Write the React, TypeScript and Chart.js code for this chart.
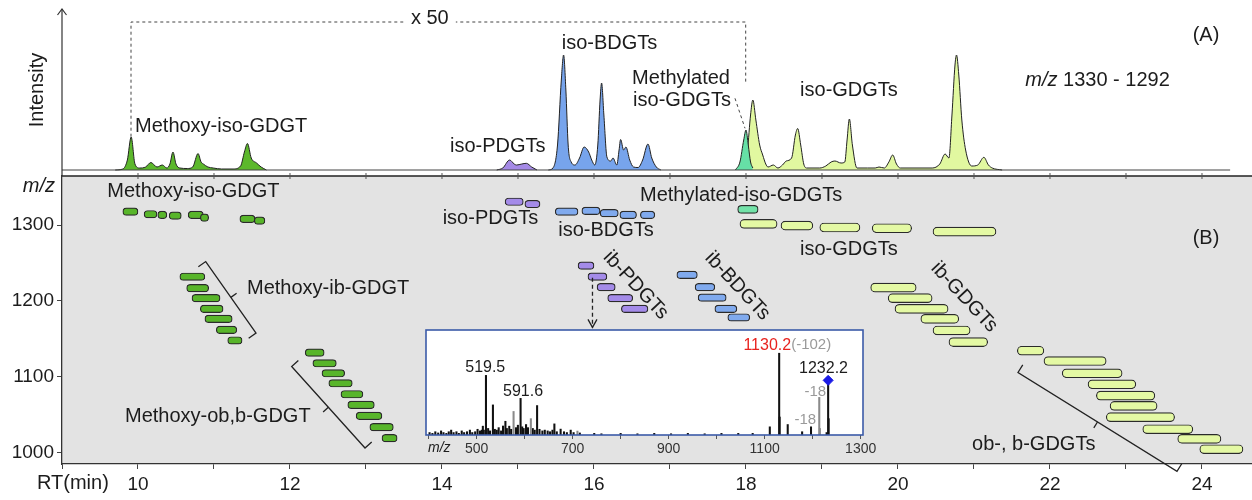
import React, { useEffect, useRef } from "react";
import { Chart, registerables } from "chart.js";

Chart.register(...registerables);

const FONT = '"Liberation Sans", Arial, Helvetica, sans-serif';
const INK = "#1c1c1c";

// ---------------- Panel A : chromatogram (m/z 1330 - 1292) ----------------
const methoxyRT = [9.70, 9.80, 9.86, 9.91, 9.96, 10.02, 10.10, 10.17, 10.25, 10.32, 10.38, 10.42, 10.46, 10.50, 10.55, 10.65, 10.72, 10.79, 10.83, 10.86, 10.92, 10.99, 11.10, 11.25, 11.35, 11.40, 11.44, 11.49, 11.56, 11.62, 11.69];
const methoxyInt = [0, 1, 10, 33, 6, 2, 3, 7.5, 3, 5, 2, 6, 18, 6, 2, 1.5, 3, 16.5, 8, 6, 3, 2, 1, 1, 4, 18, 26.5, 12, 7, 3, 0];

const pdgtRT = [14.72, 14.80, 14.89, 14.95, 14.98, 15.05, 15.11, 15.18, 15.25];
const pdgtInt = [0, 2, 10, 6, 5, 6, 6.7, 3, 0];

const bdgtRT = [15.40, 15.46, 15.52, 15.57, 15.60, 15.63, 15.66, 15.70, 15.75, 15.81, 15.87, 15.93, 15.97, 16.01, 16.05, 16.08, 16.10, 16.13, 16.17, 16.22, 16.25, 16.30, 16.33, 16.35, 16.39, 16.42, 16.47, 16.52, 16.58, 16.64, 16.71, 16.76, 16.82, 16.88];
const bdgtInt = [0, 2, 25, 90, 115, 80, 25, 8, 5, 12, 23, 18, 10, 5, 25, 70, 87, 55, 13, 9, 12, 5, 20, 30.5, 20, 23, 10, 3, 2.5, 10, 26, 12, 3, 0];

const methylRT = [17.86, 17.92, 17.97, 18.00, 18.03, 18.06, 18.09];
const methylInt = [0, 8, 30, 40, 25, 8, 2];

const gdgtRT = [17.98, 18.02, 18.06, 18.09, 18.13, 18.18, 18.22, 18.26, 18.29, 18.36, 18.42, 18.48, 18.53, 18.60, 18.65, 18.68, 18.72, 18.76, 18.80, 18.97, 19.05, 19.12, 19.17, 19.25, 19.30, 19.33, 19.36, 19.40, 19.46, 19.60, 19.70, 19.75, 19.82, 19.88, 19.93, 19.98, 20.03, 20.45, 20.55, 20.62, 20.67, 20.71, 20.75, 20.77, 20.80, 20.84, 20.89, 20.97, 21.05, 21.13, 21.19, 21.24, 21.37];
const gdgtInt = [0, 20, 55, 70, 50, 25, 15, 6, 3, 5, 2, 5, 9, 12, 35, 41.5, 25, 6, 2, 2, 4, 8, 9, 7, 8, 30, 51, 25, 2, 2, 2, 3, 2, 8, 15, 6, 2, 2, 6, 16, 12, 55, 105, 115, 95, 50, 20, 4, 5, 12.7, 5, 2, 0];

const baselineRT = [9, 24.37];
const baselineInt = [0, 0];

// ---------------- Panel B : RT vs m/z map ----------------
const methoxyIsoStart = [9.80, 10.08, 10.26, 10.41, 10.66, 10.82, 11.34, 11.53];
const methoxyIsoEnd = [10.00, 10.25, 10.38, 10.57, 10.86, 10.93, 11.54, 11.67];
const methoxyIsoMz = [1318, 1314.5, 1313.6, 1312.7, 1313.6, 1310, 1308.3, 1306.1];

const methoxyIbStart = [10.55, 10.64, 10.71, 10.82, 10.88, 11.03, 11.18];
const methoxyIbEnd = [10.88, 10.93, 11.08, 11.12, 11.24, 11.30, 11.37];
const methoxyIbMz = [1232, 1216.9, 1203.7, 1189.6, 1176.4, 1161.9, 1147.8];

const methoxyObStart = [12.20, 12.30, 12.42, 12.51, 12.67, 12.76, 12.87, 13.05, 13.21];
const methoxyObEnd = [12.45, 12.61, 12.72, 12.82, 12.96, 13.11, 13.21, 13.36, 13.41];
const methoxyObMz = [1131.7, 1117.7, 1104.5, 1091.3, 1076.8, 1062.7, 1048.2, 1033.3, 1018.8];

const isoPdgtStart = [14.83, 15.09];
const isoPdgtEnd = [15.07, 15.29];
const isoPdgtMz = [1331, 1328];

const isoBdgtStart = [15.49, 15.84, 16.08, 16.34, 16.61];
const isoBdgtEnd = [15.79, 16.08, 16.32, 16.56, 16.80];
const isoBdgtMz = [1318, 1319, 1316, 1313.6, 1313.6];

const methylStart = [17.89];
const methylEnd = [18.16];
const methylMz = [1321];

const isoGdgtStart = [17.92, 18.46, 18.97, 19.66, 20.46];
const isoGdgtEnd = [18.41, 18.88, 19.50, 20.18, 21.29];
const isoGdgtMz = [1301.7, 1299.5, 1297, 1296, 1291.6];

const ibPdgtStart = [15.79, 15.92, 16.04, 16.18, 16.36];
const ibPdgtEnd = [16.00, 16.17, 16.28, 16.51, 16.71];
const ibPdgtMz = [1246.7, 1232.2, 1218.2, 1203.7, 1189.6];

const ibBdgtStart = [17.09, 17.33, 17.37, 17.59, 17.76];
const ibBdgtEnd = [17.36, 17.59, 17.74, 17.88, 18.05];
const ibBdgtMz = [1234.4, 1218.2, 1204.5, 1189.6, 1178.2];

const ibGdgtStart = [19.64, 19.87, 19.96, 20.30, 20.46, 20.67];
const ibGdgtEnd = [20.24, 20.45, 20.66, 20.80, 20.95, 21.18];
const ibGdgtMz = [1217.7, 1203.7, 1189.6, 1176.4, 1161.0, 1145.7];

const obGdgtStart = [21.57, 21.92, 22.16, 22.50, 22.61, 22.79, 22.74, 23.22, 23.68, 23.97];
const obGdgtEnd = [21.92, 22.74, 22.95, 23.13, 23.38, 23.41, 23.64, 23.88, 24.25, 24.54];
const obGdgtMz = [1134.3, 1120.7, 1104.5, 1090, 1075, 1061.4, 1046.5, 1030.6, 1017.9, 1004.2];

const rtTickLabels = [10, 12, 14, 16, 18, 20, 22, 24];
const mzTickLabels = [1000, 1100, 1200, 1300];

// ---------------- Inset : MS2 spectrum ----------------
const specBlackMz = [402, 408, 414, 420, 426, 431, 437, 442, 447, 452, 458, 463, 469, 474, 480, 486, 491, 497, 502, 507, 511, 513, 515, 519.5, 524, 528, 534, 538, 542, 546, 551, 555, 560, 563, 568, 572, 582, 586, 591.6, 595, 598, 603, 607, 617, 621, 626, 631, 637, 642, 648, 653, 658, 662, 667, 675, 682, 688, 696, 702, 715, 745, 760, 800, 835, 870, 905, 940, 975, 1010, 1045, 1075, 1110.7, 1130.2, 1131.2, 1148, 1178, 1196.5, 1229, 1232.2, 1233.2];
const specBlackInt = [3, 2, 4, 2.5, 5, 3, 2, 4, 6, 3, 4, 2, 5, 3, 4, 6, 3, 4, 7, 5, 6, 10.8, 6, 72.9, 8, 5, 36.8, 7, 6, 9, 5, 11, 16.8, 8, 10.8, 7, 9, 12, 44.8, 10, 8, 12.8, 9, 8, 6, 36, 7, 5, 6, 5, 4, 6, 13.6, 4, 7.2, 4, 3, 6, 3, 2.5, 2, 1.5, 2, 1.5, 2, 1.5, 2, 1.5, 2, 2, 2, 10, 100, 22, 12.8, 4, 10, 3, 66.8, 20];
const specGrayMz = [577, 613, 710, 1213.7, 1215];
const specGrayInt = [28.8, 20, 4.8, 46, 8];
const precursorMz = [1232.2];
const precursorInt = [66.8];
const insetTickLabels = [500, 700, 900, 1100, 1300];

const pts = (xs: number[], ys: number[]) => xs.map((x, i) => ({ x, y: ys[i] }));
const pills = (s: number[], e: number[], m: number[]) => s.map((v, i) => ({ x: [v, e[i]], y: m[i] }));

const LABEL = `20px ${FONT}`;

function bracket(ctx: CanvasRenderingContext2D, x1: number, y1: number, x2: number, y2: number, sign: number) {
  const dx = x2 - x1, dy = y2 - y1;
  const L = Math.hypot(dx, dy);
  const ux = dx / L, uy = dy / L;
  const nx = -uy * sign, ny = ux * sign;
  const hook = 9, tick = 7;
  ctx.beginPath();
  ctx.moveTo(x1 + nx * hook, y1 + ny * hook);
  ctx.lineTo(x1, y1);
  ctx.lineTo(x2, y2);
  ctx.lineTo(x2 + nx * hook, y2 + ny * hook);
  ctx.stroke();
  const mx = (x1 + x2) / 2, my = (y1 + y2) / 2;
  ctx.beginPath();
  ctx.moveTo(mx, my);
  ctx.lineTo(mx - nx * tick, my - ny * tick);
  ctx.stroke();
}

const panelAPlugin = {
  id: "panelA",
  afterDraw(chart: any) {
    const { ctx, chartArea: a, scales } = chart;
    const X = (v: number) => scales.x.getPixelForValue(v);
    const Y = (v: number) => scales.y.getPixelForValue(v);
    ctx.save();
    ctx.strokeStyle = "#333";
    ctx.lineWidth = 1.2;
    ctx.beginPath();
    ctx.moveTo(a.left, 176);
    ctx.lineTo(a.left, 9);
    ctx.stroke();
    ctx.beginPath();
    ctx.moveTo(a.left - 4.5, 15);
    ctx.lineTo(a.left, 9);
    ctx.lineTo(a.left + 4.5, 15);
    ctx.stroke();
    ctx.fillStyle = INK;
    ctx.font = LABEL;
    ctx.textAlign = "center";
    ctx.textBaseline = "middle";
    ctx.save();
    ctx.translate(a.left - 25, 90);
    ctx.rotate(-Math.PI / 2);
    ctx.fillText("Intensity", 0, 0);
    ctx.restore();
    ctx.strokeStyle = "#444";
    ctx.lineWidth = 1;
    ctx.setLineDash([3, 3]);
    ctx.beginPath();
    ctx.moveTo(X(9.908), Y(33.3));
    ctx.lineTo(X(9.908), Y(148));
    ctx.lineTo(X(17.996), Y(148));
    ctx.lineTo(X(17.996), Y(87));
    ctx.stroke();
    ctx.beginPath();
    ctx.moveTo(X(17.855), Y(71.7));
    ctx.lineTo(X(17.987), Y(41.7));
    ctx.stroke();
    ctx.setLineDash([]);
    ctx.fillStyle = "#fff";
    ctx.fillRect(X(13.84) - 26, Y(152) - 10, 52, 20);
    ctx.fillStyle = INK;
    ctx.font = LABEL;
    ctx.fillText("x 50", X(13.84), Y(152));
    ctx.textAlign = "left";
    ctx.fillText("Methoxy-iso-GDGT", X(9.961), Y(43.3));
    ctx.fillText("iso-PDGTs", X(14.105), Y(24));
    ctx.fillText("iso-BDGTs", X(15.575), Y(126.7));
    ctx.textAlign = "center";
    ctx.fillText("Methylated", X(17.145), Y(91.7));
    ctx.fillText("iso-GDGTs", X(17.158), Y(70));
    ctx.fillText("iso-GDGTs", X(19.355), Y(80));
    ctx.fillText("(A)", X(24.053), Y(135));
    ctx.textAlign = "left";
    ctx.font = `italic 20px ${FONT}`;
    const mzx = X(21.675);
    ctx.fillText("m/z", mzx, Y(90));
    const w = ctx.measureText("m/z ").width;
    ctx.font = LABEL;
    ctx.fillText("1330 - 1292", mzx + w, Y(90));
    ctx.restore();
  },
};

const panelBPlugin = {
  id: "panelB",
  beforeDraw(chart: any) {
    const { ctx, chartArea: a } = chart;
    ctx.save();
    ctx.fillStyle = "#e3e3e3";
    ctx.fillRect(a.left, a.top, a.right - a.left, a.bottom - a.top);
    ctx.restore();
  },
  afterDraw(chart: any) {
    const { ctx, chartArea: a, scales } = chart;
    const X = (v: number) => scales.x.getPixelForValue(v);
    const Y = (v: number) => scales.y.getPixelForValue(v);
    ctx.save();
    ctx.strokeStyle = "#222";
    ctx.lineWidth = 1.5;
    ctx.beginPath();
    ctx.moveTo(a.left, a.top);
    ctx.lineTo(a.right, a.top);
    ctx.stroke();
    ctx.lineWidth = 1;
    ctx.strokeStyle = "#555";
    for (let t = 10; t <= 24; t++) {
      ctx.beginPath();
      ctx.moveTo(X(t), a.top - 3);
      ctx.lineTo(X(t), a.top + 3);
      ctx.stroke();
    }
    ctx.strokeStyle = "#222";
    ctx.lineWidth = 1.3;
    bracket(ctx, X(10.891), Y(1252), X(11.553), Y(1157.5), 1);
    bracket(ctx, X(12.022), Y(1113.5), X(12.987), Y(1005.8), -1);
    bracket(ctx, X(21.579), Y(1105.5), X(23.671), Y(974.9), -1);
    ctx.setLineDash([4, 3]);
    ctx.beginPath();
    ctx.moveTo(X(15.98), Y(1230.7));
    ctx.lineTo(X(15.98), Y(1165.1));
    ctx.stroke();
    ctx.setLineDash([]);
    ctx.beginPath();
    ctx.moveTo(X(15.98) - 4.5, Y(1165.1) - 8);
    ctx.lineTo(X(15.98), Y(1165.1));
    ctx.lineTo(X(15.98) + 4.5, Y(1165.1) - 8);
    ctx.stroke();
    ctx.fillStyle = INK;
    ctx.font = LABEL;
    ctx.textBaseline = "middle";
    ctx.textAlign = "left";
    ctx.fillText("Methoxy-iso-GDGT", X(9.596), Y(1344.3));
    ctx.fillText("iso-PDGTs", X(14.009), Y(1309.2));
    ctx.fillText("iso-BDGTs", X(15.53), Y(1292.5));
    ctx.fillText("Methylated-iso-GDGTs", X(16.605), Y(1339));
    ctx.fillText("iso-GDGTs", X(18.711), Y(1267.4));
    ctx.fillText("Methoxy-ib-GDGT", X(11.434), Y(1216.9));
    ctx.fillText("Methoxy-ob,b-GDGT", X(9.829), Y(1047.1));
    ctx.fillText("ob-, b-GDGTs", X(20.974), Y(1010.2));
    ctx.textAlign = "center";
    ctx.fillText("(B)", X(24.053), Y(1283));
    const rot = (txt: string, rt: number, mz: number) => {
      ctx.save();
      ctx.translate(X(rt), Y(mz));
      ctx.rotate((47 * Math.PI) / 180);
      ctx.fillText(txt, 0, 0);
      ctx.restore();
    };
    rot("ib-PDGTs", 16.55, 1220.7);
    rot("ib-BDGTs", 17.888, 1219.7);
    rot("ib-GDGTs", 20.87, 1205);
    ctx.font = `italic 20px ${FONT}`;
    ctx.textAlign = "right";
    ctx.fillText("m/z", a.left - 7, a.top + 10);
    ctx.font = LABEL;
    ctx.textAlign = "left";
    ctx.fillText("RT(min)", a.left - 25, a.bottom + 19);
    ctx.restore();
  },
};

const insetPlugin = {
  id: "inset",
  beforeDraw(chart: any) {
    const { ctx, chartArea: a } = chart;
    ctx.save();
    ctx.fillStyle = "#ffffff";
    ctx.fillRect(a.left, a.top, a.right - a.left, a.bottom - a.top);
    ctx.restore();
  },
  afterDraw(chart: any) {
    const { ctx, chartArea: a, scales } = chart;
    const X = (v: number) => scales.x.getPixelForValue(v);
    const Y = (v: number) => scales.y.getPixelForValue(v);
    ctx.save();
    ctx.strokeStyle = "#3b5ba8";
    ctx.lineWidth = 1.6;
    ctx.strokeRect(a.left, a.top, a.right - a.left, a.bottom - a.top);
    ctx.textBaseline = "middle";
    ctx.textAlign = "center";
    ctx.fillStyle = INK;
    ctx.font = `16px ${FONT}`;
    ctx.fillText("519.5", X(518), Y(82.7));
    ctx.fillText("591.6", X(596.7), Y(53.3));
    ctx.fillText("1232.2", X(1222.6), Y(80.6));
    ctx.textAlign = "left";
    ctx.fillStyle = "#e8231f";
    const lx = X(1055.7);
    ctx.fillText("1130.2", lx, Y(109.7));
    const w = ctx.measureText("1130.2").width;
    ctx.fillStyle = "#9a9a9a";
    ctx.font = `15px ${FONT}`;
    ctx.fillText("(-102)", lx + w, Y(109.7));
    ctx.textAlign = "center";
    ctx.fillText("-18", X(1205.4), Y(53.3));
    ctx.fillText("-18", X(1184.7), Y(18.2));
    ctx.fillStyle = INK;
    ctx.font = `italic 14px ${FONT}`;
    ctx.textAlign = "left";
    ctx.fillText("m/z", a.left + 2, a.bottom + 13);
    ctx.restore();
  },
};

export default function App() {
  const refA = useRef<HTMLCanvasElement>(null);
  const refB = useRef<HTMLCanvasElement>(null);
  const refI = useRef<HTMLCanvasElement>(null);

  useEffect(() => {
    document.body.style.margin = "0";
    Chart.defaults.font.family = FONT;
    Chart.defaults.color = INK;

    const line = (rt: number[], v: number[], color: string, order: number) => ({
      data: pts(rt, v),
      fill: "origin",
      backgroundColor: color,
      borderColor: "#222",
      borderWidth: 1,
      pointRadius: 0,
      cubicInterpolationMode: "monotone",
      order,
    });

    const chartA = new Chart(refA.current!, {
      type: "line",
      data: {
        datasets: [
          { data: pts(baselineRT, baselineInt), borderColor: "#444", borderWidth: 1.2, pointRadius: 0, fill: false, order: 0 } as any,
          line(methoxyRT, methoxyInt, "#5cb82c", 5),
          line(pdgtRT, pdgtInt, "#a58ae6", 5),
          line(bdgtRT, bdgtInt, "#77a4ec", 5),
          line(gdgtRT, gdgtInt, "#e1f8a0", 6),
          line(methylRT, methylInt, "#66e0a6", 4),
        ],
      },
      options: {
        responsive: false,
        animation: false,
        layout: { padding: { left: 62, right: 0, top: 10, bottom: 4 } },
        plugins: { legend: { display: false }, tooltip: { enabled: false } },
        scales: {
          x: { type: "linear", min: 9, max: 24.658, display: false },
          y: { type: "linear", min: -2, max: 160, display: false },
        },
      } as any,
      plugins: [panelAPlugin],
    });

    const bar = (data: any[], color: string, thick: number) => ({
      data,
      backgroundColor: color,
      borderColor: "#2b2b2b",
      borderWidth: 1.2,
      borderRadius: thick / 2,
      borderSkipped: false,
      barThickness: thick,
      grouped: false,
    });

    const chartB = new Chart(refB.current!, {
      type: "bar",
      data: {
        datasets: [
          bar(pills(methoxyIsoStart, methoxyIsoEnd, methoxyIsoMz), "#58b52a", 7.5),
          bar(pills(methoxyIbStart, methoxyIbEnd, methoxyIbMz), "#58b52a", 7.5),
          bar(pills(methoxyObStart, methoxyObEnd, methoxyObMz), "#58b52a", 7.5),
          bar(pills(isoPdgtStart, isoPdgtEnd, isoPdgtMz), "#a48be9", 7.5),
          bar(pills(isoBdgtStart, isoBdgtEnd, isoBdgtMz), "#80aaee", 7.5),
          bar(pills(methylStart, methylEnd, methylMz), "#72e2a8", 8),
          bar(pills(isoGdgtStart, isoGdgtEnd, isoGdgtMz), "#e4f9a4", 9),
          bar(pills(ibPdgtStart, ibPdgtEnd, ibPdgtMz), "#a48be9", 7.5),
          bar(pills(ibBdgtStart, ibBdgtEnd, ibBdgtMz), "#80aaee", 7.5),
          bar(pills(ibGdgtStart, ibGdgtEnd, ibGdgtMz), "#e4f9a4", 9),
          bar(pills(obGdgtStart, obGdgtEnd, obGdgtMz), "#e4f9a4", 9),
        ],
      },
      options: {
        indexAxis: "y",
        responsive: false,
        animation: false,
        layout: { padding: { left: 0, right: 0, top: 176, bottom: 0 } },
        plugins: { legend: { display: false }, tooltip: { enabled: false } },
        scales: {
          x: {
            type: "linear",
            min: 9,
            max: 24.658,
            offset: false,
            afterFit: (s: any) => { s.height = 36; },
            ticks: {
              stepSize: 1,
              includeBounds: false,
              autoSkip: false,
              maxRotation: 0,
              padding: 4,
              font: { size: 19 },
              color: INK,
              callback: (v: any) => (rtTickLabels.includes(v) ? String(v) : ""),
            },
            grid: { drawOnChartArea: false, tickLength: 5, color: "#444", offset: false },
            border: { color: "#333", width: 1.3 },
          },
          y: {
            type: "linear",
            min: 984.7,
            max: 1365,
            offset: false,
            afterFit: (s: any) => { s.width = 62; },
            ticks: {
              stepSize: 100,
              includeBounds: false,
              autoSkip: false,
              padding: 3,
              font: { size: 19 },
              color: INK,
              callback: (v: any) => (mzTickLabels.includes(v) ? String(v) : ""),
            },
            grid: { drawOnChartArea: false, tickLength: 5, color: "#444", offset: false },
            border: { color: "#333", width: 1.3 },
          },
        },
      } as any,
      plugins: [panelBPlugin],
    });

    const stick = (xs: number[], ys: number[], color: string) => ({
      type: "bar",
      data: pts(xs, ys),
      backgroundColor: color,
      borderWidth: 0,
      barThickness: 1.4,
      grouped: false,
      order: 2,
    });

    const chartI = new Chart(refI.current!, {
      type: "bar",
      data: {
        datasets: [
          {
            type: "scatter",
            data: pts(precursorMz, precursorInt),
            pointStyle: "rectRot",
            pointRadius: 5,
            backgroundColor: "#1a1ae6",
            borderColor: "#1a1ae6",
            order: 0,
          } as any,
          stick(specGrayMz, specGrayInt, "#8a8a8a"),
          stick(specBlackMz, specBlackInt, "#111"),
        ],
      },
      options: {
        responsive: false,
        animation: false,
        layout: { padding: { left: 4, right: 27, top: 4, bottom: 0 } },
        plugins: { legend: { display: false }, tooltip: { enabled: false } },
        scales: {
          x: {
            type: "linear",
            min: 394.6,
            max: 1304.8,
            offset: false,
            afterFit: (s: any) => { s.height = 25; },
            ticks: {
              stepSize: 100,
              includeBounds: false,
              autoSkip: false,
              maxRotation: 0,
              padding: 2,
              font: { size: 14 },
              color: "#333",
              callback: (v: any) => (insetTickLabels.includes(v) ? String(v) : ""),
            },
            grid: { drawOnChartArea: false, tickLength: 4, color: "#555", offset: false },
            border: { display: false },
          },
          y: { type: "linear", min: 0, max: 128.4, display: false },
        },
      } as any,
      plugins: [insetPlugin],
    });

    return () => {
      chartA.destroy();
      chartB.destroy();
      chartI.destroy();
    };
  }, []);

  return (
    <div style={{ position: "relative", width: 1252, height: 500, background: "#fff" }}>
      <canvas ref={refB} width={1252} height={500} style={{ position: "absolute", left: 0, top: 0 }} />
      <canvas ref={refA} width={1252} height={176} style={{ position: "absolute", left: 0, top: 0 }} />
      <canvas ref={refI} width={470} height={136} style={{ position: "absolute", left: 420, top: 324 }} />
    </div>
  );
}
